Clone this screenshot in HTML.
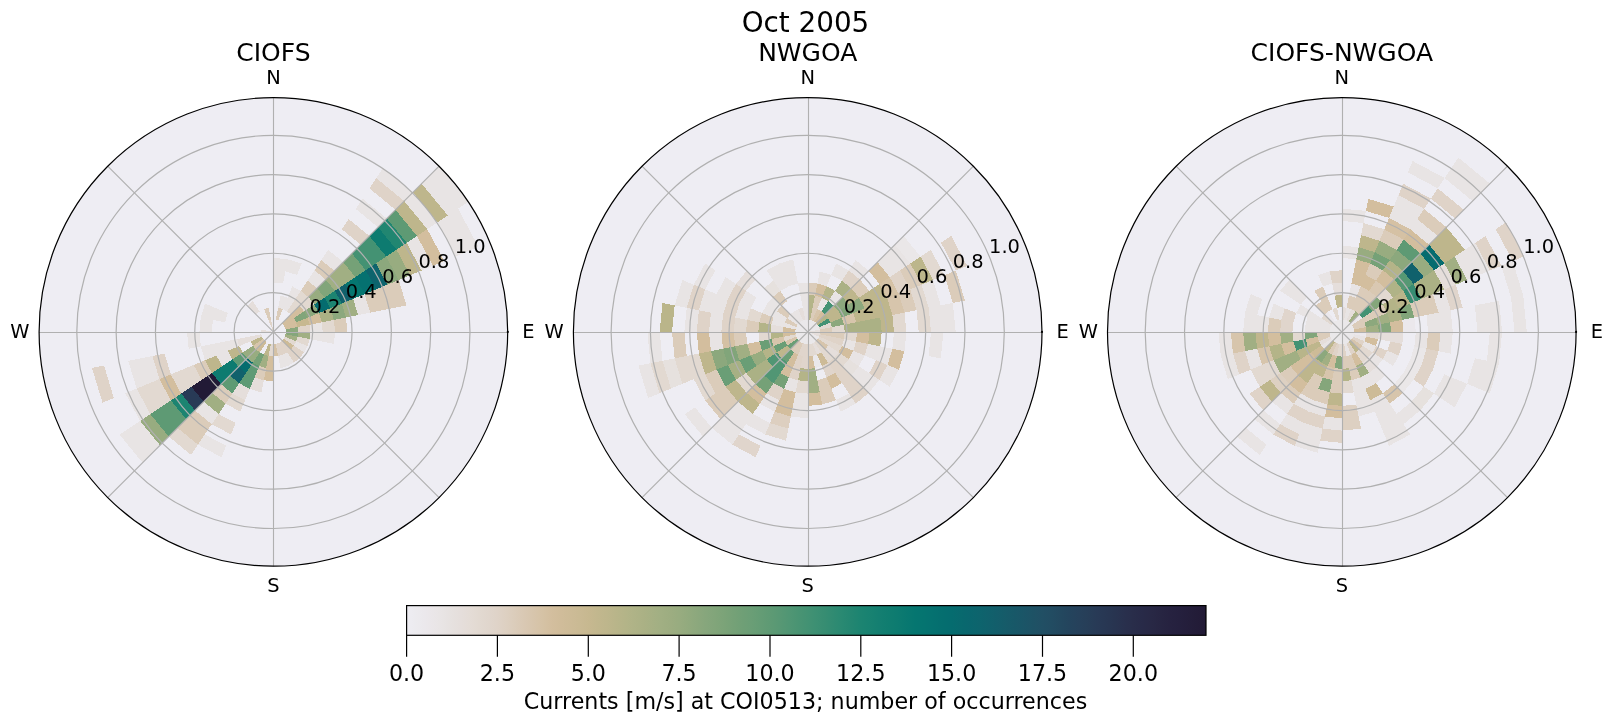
<!DOCTYPE html>
<html><head><meta charset="utf-8"><title>Oct 2005</title>
<style>html,body{margin:0;padding:0;background:#fff}svg{display:block;will-change:transform;transform:translateZ(0)}text{font-family:"DejaVu Sans","Liberation Sans",sans-serif;fill:#000}</style></head><body>
<svg width="1611" height="724" viewBox="0 0 1611 724">
<rect width="1611" height="724" fill="#fff"/>
<defs><linearGradient id="cb" x1="0" x2="1" y1="0" y2="0">
<stop offset="0.0000" stop-color="#eeedf3"/>
<stop offset="0.0114" stop-color="#ecebef"/>
<stop offset="0.0227" stop-color="#ebe8ec"/>
<stop offset="0.0341" stop-color="#eae6e8"/>
<stop offset="0.0455" stop-color="#e8e4e4"/>
<stop offset="0.0568" stop-color="#e6e1df"/>
<stop offset="0.0682" stop-color="#e5dedb"/>
<stop offset="0.0795" stop-color="#e4dcd6"/>
<stop offset="0.0909" stop-color="#e2d9d1"/>
<stop offset="0.1023" stop-color="#e0d6cd"/>
<stop offset="0.1136" stop-color="#dfd3c8"/>
<stop offset="0.1250" stop-color="#ddd0c1"/>
<stop offset="0.1364" stop-color="#dbccba"/>
<stop offset="0.1477" stop-color="#d9c8b3"/>
<stop offset="0.1591" stop-color="#d7c5ac"/>
<stop offset="0.1705" stop-color="#d5c2a5"/>
<stop offset="0.1818" stop-color="#d3be9e"/>
<stop offset="0.1932" stop-color="#d0bc9a"/>
<stop offset="0.2045" stop-color="#cdbb97"/>
<stop offset="0.2159" stop-color="#caba94"/>
<stop offset="0.2273" stop-color="#c7b890"/>
<stop offset="0.2386" stop-color="#c2b78e"/>
<stop offset="0.2500" stop-color="#beb68c"/>
<stop offset="0.2614" stop-color="#b9b58a"/>
<stop offset="0.2727" stop-color="#b4b488"/>
<stop offset="0.2841" stop-color="#afb387"/>
<stop offset="0.2955" stop-color="#abb185"/>
<stop offset="0.3068" stop-color="#a6b084"/>
<stop offset="0.3182" stop-color="#a1af83"/>
<stop offset="0.3295" stop-color="#9dad81"/>
<stop offset="0.3409" stop-color="#98ac80"/>
<stop offset="0.3523" stop-color="#92aa7e"/>
<stop offset="0.3636" stop-color="#8ca87d"/>
<stop offset="0.3750" stop-color="#86a67c"/>
<stop offset="0.3864" stop-color="#81a57a"/>
<stop offset="0.3977" stop-color="#7ba378"/>
<stop offset="0.4091" stop-color="#75a177"/>
<stop offset="0.4205" stop-color="#6f9f76"/>
<stop offset="0.4318" stop-color="#6a9e76"/>
<stop offset="0.4432" stop-color="#649c75"/>
<stop offset="0.4545" stop-color="#5e9a74"/>
<stop offset="0.4659" stop-color="#589874"/>
<stop offset="0.4773" stop-color="#519674"/>
<stop offset="0.4886" stop-color="#4a9473"/>
<stop offset="0.5000" stop-color="#449273"/>
<stop offset="0.5114" stop-color="#3d9073"/>
<stop offset="0.5227" stop-color="#378d72"/>
<stop offset="0.5341" stop-color="#308b72"/>
<stop offset="0.5455" stop-color="#298972"/>
<stop offset="0.5568" stop-color="#238671"/>
<stop offset="0.5682" stop-color="#1c8471"/>
<stop offset="0.5795" stop-color="#188271"/>
<stop offset="0.5909" stop-color="#147f71"/>
<stop offset="0.6023" stop-color="#107d70"/>
<stop offset="0.6136" stop-color="#0d7b70"/>
<stop offset="0.6250" stop-color="#097870"/>
<stop offset="0.6364" stop-color="#057670"/>
<stop offset="0.6477" stop-color="#057470"/>
<stop offset="0.6591" stop-color="#057170"/>
<stop offset="0.6705" stop-color="#056e6f"/>
<stop offset="0.6818" stop-color="#056c6f"/>
<stop offset="0.6932" stop-color="#08696e"/>
<stop offset="0.7045" stop-color="#0a666e"/>
<stop offset="0.7159" stop-color="#0d646d"/>
<stop offset="0.7273" stop-color="#10616c"/>
<stop offset="0.7386" stop-color="#135e6b"/>
<stop offset="0.7500" stop-color="#165b69"/>
<stop offset="0.7614" stop-color="#185868"/>
<stop offset="0.7727" stop-color="#1b5567"/>
<stop offset="0.7841" stop-color="#1e5265"/>
<stop offset="0.7955" stop-color="#214f64"/>
<stop offset="0.8068" stop-color="#224c62"/>
<stop offset="0.8182" stop-color="#23485f"/>
<stop offset="0.8295" stop-color="#24445d"/>
<stop offset="0.8409" stop-color="#26415b"/>
<stop offset="0.8523" stop-color="#273e58"/>
<stop offset="0.8636" stop-color="#283a56"/>
<stop offset="0.8750" stop-color="#283753"/>
<stop offset="0.8864" stop-color="#283450"/>
<stop offset="0.8977" stop-color="#29304d"/>
<stop offset="0.9091" stop-color="#292d4a"/>
<stop offset="0.9205" stop-color="#282a48"/>
<stop offset="0.9318" stop-color="#282845"/>
<stop offset="0.9432" stop-color="#272542"/>
<stop offset="0.9545" stop-color="#262240"/>
<stop offset="0.9659" stop-color="#25203e"/>
<stop offset="0.9773" stop-color="#241e3b"/>
<stop offset="0.9886" stop-color="#231c38"/>
<stop offset="1.0000" stop-color="#221a36"/>
</linearGradient>
<clipPath id="cp0"><circle cx="273.4" cy="331.9" r="234.3"/></clipPath>
<clipPath id="cp1"><circle cx="807.7" cy="331.9" r="234.3"/></clipPath>
<clipPath id="cp2"><circle cx="1341.8" cy="331.9" r="234.3"/></clipPath>
</defs>
<text x="805.5" y="31.5" font-size="27.8" text-anchor="middle">Oct 2005</text>
<g>
<text x="273.4" y="61" font-size="25" text-anchor="middle">CIOFS</text>
<circle cx="273.4" cy="331.9" r="234.3" fill="#eeedf3"/>
<g clip-path="url(#cp0)" shape-rendering="crispEdges">
<path fill="#8ca87d" d="M285.73,331.90L298.07,331.90L297.59,327.09L285.50,329.49ZM333.89,319.87L345.98,317.46L341.77,303.58L330.38,308.30ZM307.59,317.74L318.98,313.02L314.42,304.49L304.17,311.34ZM387.35,284.70L398.75,279.98L386.21,256.52L375.96,263.37Z"/>
<path fill="#dfd3c8" d="M298.07,331.90L310.40,331.90L309.69,324.68L297.59,327.09ZM360.62,244.68L369.34,235.96L348.78,219.09L341.93,229.34ZM395.50,209.80L404.22,201.08L376.19,178.07L369.34,188.32ZM273.40,331.90L270.99,319.80L268.68,320.50L273.40,331.90ZM164.53,353.56L152.43,355.96L159.45,379.10L170.84,374.38ZM104.04,365.59L91.94,367.99L102.47,402.70L113.87,397.98ZM275.81,344.00L278.21,356.09L282.84,354.69L278.12,343.30ZM278.12,343.30L282.84,354.69L287.11,352.41L280.25,342.16ZM280.25,342.16L287.11,352.41L290.84,349.34L282.12,340.62ZM287.11,352.41L293.96,362.67L299.56,358.06L290.84,349.34ZM290.84,349.34L299.56,358.06L304.17,352.46L293.91,345.61Z"/>
<path fill="#e8e4e4" d="M310.40,331.90L322.74,331.90L321.79,322.27L309.69,324.68ZM358.08,315.06L370.18,312.65L364.56,294.14L353.17,298.86ZM421.54,270.54L432.93,265.82L416.98,235.96L406.72,242.82ZM455.73,256.38L467.12,251.66L447.74,215.41L437.49,222.26ZM467.12,251.66L478.52,246.94L458.00,208.55L447.74,215.41ZM427.23,229.11L437.49,222.26L412.95,192.35L404.22,201.08ZM447.74,215.41L458.00,208.55L430.39,174.91L421.67,183.63ZM458.00,208.55L468.25,201.70L439.11,166.19L430.39,174.91ZM317.01,288.29L325.73,279.57L314.52,270.37L307.66,280.62ZM334.45,270.85L343.17,262.13L328.22,249.86L321.37,260.11ZM378.06,227.24L386.78,218.52L362.48,198.58L355.63,208.83ZM404.22,201.08L412.95,192.35L383.04,167.81L376.19,178.07ZM287.11,311.39L293.96,301.13L287.56,297.71L282.84,309.11ZM293.96,301.13L300.81,290.88L292.28,286.32L287.56,297.71ZM282.84,309.11L287.56,297.71L280.62,295.61L278.21,307.71ZM297.00,274.92L301.72,263.53L287.84,259.32L285.43,271.41ZM283.03,283.51L285.43,271.41L273.40,270.23L273.40,282.56ZM285.43,271.41L287.84,259.32L273.40,257.89L273.40,270.23ZM227.82,313.02L216.42,308.30L212.91,319.87L225.01,322.27ZM216.42,308.30L205.03,303.58L200.82,317.46L212.91,319.87ZM212.91,319.87L200.82,317.46L199.39,331.90L211.73,331.90ZM199.39,331.90L187.06,331.90L188.72,348.74L200.82,346.34ZM237.11,339.12L225.01,341.53L227.82,350.78L239.21,346.06ZM225.01,341.53L212.91,343.93L216.42,355.50L227.82,350.78ZM212.91,343.93L200.82,346.34L205.03,360.22L216.42,355.50ZM152.43,355.96L140.33,358.37L148.05,383.82L159.45,379.10ZM140.33,358.37L128.23,360.78L136.66,388.54L148.05,383.82ZM227.82,350.78L216.42,355.50L222.12,366.16L232.38,359.31ZM136.66,388.54L125.26,393.26L140.08,420.98L150.33,414.13ZM140.08,420.98L129.82,427.84L151.30,454.00L160.02,445.28ZM129.82,427.84L119.57,434.69L142.58,462.72L151.30,454.00ZM203.63,401.67L194.91,410.39L211.73,424.20L218.58,413.94ZM204.87,434.46L198.02,444.71L221.48,457.25L226.20,445.85ZM278.21,356.09L280.62,368.19L287.56,366.09L282.84,354.69ZM282.84,354.69L287.56,366.09L293.96,362.67L287.11,352.41ZM293.91,345.61L304.17,352.46L307.59,346.06L296.19,341.34ZM309.69,339.12L321.79,341.53L322.74,331.90L310.40,331.90ZM321.79,341.53L333.89,343.93L335.07,331.90L322.74,331.90Z"/>
<path fill="#e2d9d1" d="M322.74,331.90L335.07,331.90L333.89,319.87L321.79,322.27ZM304.17,311.34L314.42,304.49L308.29,297.01L299.56,305.74ZM290.84,314.46L299.56,305.74L293.96,301.13L287.11,311.39ZM299.56,305.74L308.29,297.01L300.81,290.88L293.96,301.13ZM193.63,364.94L182.24,369.66L191.36,386.72L201.61,379.87ZM182.24,369.66L170.84,374.38L181.10,393.57L191.36,386.72ZM159.45,379.10L148.05,383.82L160.59,407.28L170.84,400.43ZM148.05,383.82L136.66,388.54L150.33,414.13L160.59,407.28ZM177.46,427.84L168.74,436.56L191.17,454.97L198.02,444.71ZM232.28,393.43L225.43,403.69L240.36,411.67L245.08,400.27ZM218.58,413.94L211.73,424.20L230.92,434.46L235.64,423.06ZM270.99,344.00L268.59,356.09L273.40,356.57L273.40,344.23ZM283.66,338.75L293.91,345.61L296.19,341.34L284.80,336.62ZM296.19,341.34L307.59,346.06L309.69,339.12L297.59,336.71Z"/>
<path fill="#dbccba" d="M335.07,331.90L347.41,331.90L345.98,317.46L333.89,319.87ZM370.18,312.65L382.27,310.24L375.96,289.42L364.56,294.14ZM382.27,310.24L394.37,307.84L387.35,284.70L375.96,289.42ZM394.37,307.84L406.47,305.43L398.75,279.98L387.35,284.70ZM308.29,297.01L317.01,288.29L307.66,280.62L300.81,290.88ZM325.73,279.57L334.45,270.85L321.37,260.11L314.52,270.37ZM278.12,320.50L282.84,309.11L278.21,307.71L275.81,319.80ZM270.99,319.80L268.59,307.71L263.96,309.11L268.68,320.50ZM205.03,360.22L193.63,364.94L201.61,379.87L211.87,373.02ZM221.07,384.23L212.35,392.95L225.43,403.69L232.28,393.43ZM194.91,410.39L186.18,419.12L204.87,434.46L211.73,424.20ZM186.18,419.12L177.46,427.84L198.02,444.71L204.87,434.46ZM259.24,366.09L254.52,377.48L263.77,380.29L266.18,368.19Z"/>
<path fill="#d3be9e" d="M285.50,329.49L297.59,327.09L296.19,322.46L284.80,327.18ZM309.69,324.68L321.79,322.27L318.98,313.02L307.59,317.74ZM284.80,327.18L296.19,322.46L293.91,318.19L283.66,325.05ZM432.93,265.82L444.33,261.10L427.23,229.11L416.98,235.96ZM283.66,325.05L293.91,318.19L290.84,314.46L282.12,323.18ZM293.91,318.19L304.17,311.34L299.56,305.74L290.84,314.46ZM170.84,374.38L159.45,379.10L170.84,400.43L181.10,393.57ZM268.59,356.09L266.18,368.19L273.40,368.90L273.40,356.57ZM266.18,368.19L263.77,380.29L273.40,381.24L273.40,368.90Z"/>
<path fill="#c7b890" d="M297.59,327.09L309.69,324.68L307.59,317.74L296.19,322.46Z"/>
<path fill="#abb185" d="M321.79,322.27L333.89,319.87L330.38,308.30L318.98,313.02Z"/>
<path fill="#a1af83" d="M345.98,317.46L358.08,315.06L353.17,298.86L341.77,303.58ZM334.93,290.78L345.19,283.93L334.45,270.85L325.73,279.57ZM345.19,283.93L355.44,277.08L343.17,262.13L334.45,270.85ZM212.35,392.95L203.63,401.67L218.58,413.94L225.43,403.69ZM263.96,354.69L259.24,366.09L266.18,368.19L268.59,356.09ZM284.80,336.62L296.19,341.34L297.59,336.71L285.50,334.31ZM297.59,336.71L309.69,339.12L310.40,331.90L298.07,331.90Z"/>
<path fill="#81a57a" d="M296.19,322.46L307.59,317.74L304.17,311.34L293.91,318.19ZM324.68,297.64L334.93,290.78L325.73,279.57L317.01,288.29Z"/>
<path fill="#056c6f" d="M318.98,313.02L330.38,308.30L324.68,297.64L314.42,304.49ZM247.24,358.06L238.51,366.79L245.99,372.92L252.84,362.67Z"/>
<path fill="#1c8471" d="M330.38,308.30L341.77,303.58L334.93,290.78L324.68,297.64ZM181.10,393.57L170.84,400.43L186.18,419.12L194.91,410.39Z"/>
<path fill="#10616c" d="M341.77,303.58L353.17,298.86L345.19,283.93L334.93,290.78ZM238.51,366.79L229.79,375.51L239.14,383.18L245.99,372.92Z"/>
<path fill="#057670" d="M353.17,298.86L364.56,294.14L355.44,277.08L345.19,283.93Z"/>
<path fill="#057170" d="M364.56,294.14L375.96,289.42L365.70,270.23L355.44,277.08Z"/>
<path fill="#0d646d" d="M375.96,289.42L387.35,284.70L375.96,263.37L365.70,270.23Z"/>
<path fill="#98ac80" d="M398.75,279.98L410.14,275.26L396.47,249.67L386.21,256.52ZM314.42,304.49L324.68,297.64L317.01,288.29L308.29,297.01ZM252.89,345.61L242.63,352.46L247.24,358.06L255.96,349.34ZM150.33,414.13L140.08,420.98L160.02,445.28L168.74,436.56ZM255.96,349.34L247.24,358.06L252.84,362.67L259.69,352.41Z"/>
<path fill="#beb68c" d="M410.14,275.26L421.54,270.54L406.72,242.82L396.47,249.67ZM416.98,235.96L427.23,229.11L404.22,201.08L395.50,209.80ZM437.49,222.26L447.74,215.41L421.67,183.63L412.95,192.35ZM262.00,336.62L250.61,341.34L252.89,345.61L263.14,338.75ZM239.21,346.06L227.82,350.78L232.38,359.31L242.63,352.46ZM216.42,355.50L205.03,360.22L211.87,373.02L222.12,366.16ZM268.68,343.30L263.96,354.69L268.59,356.09L270.99,344.00Z"/>
<path fill="#75a177" d="M355.44,277.08L365.70,270.23L351.89,253.41L343.17,262.13ZM259.69,352.41L252.84,362.67L259.24,366.09L263.96,354.69Z"/>
<path fill="#449273" d="M365.70,270.23L375.96,263.37L360.62,244.68L351.89,253.41ZM375.96,263.37L386.21,256.52L369.34,235.96L360.62,244.68Z"/>
<path fill="#0d7b70" d="M386.21,256.52L396.47,249.67L378.06,227.24L369.34,235.96ZM232.38,359.31L222.12,366.16L229.79,375.51L238.51,366.79ZM222.12,366.16L211.87,373.02L221.07,384.23L229.79,375.51Z"/>
<path fill="#218671" d="M396.47,249.67L406.72,242.82L386.78,218.52L378.06,227.24Z"/>
<path fill="#5e9a74" d="M406.72,242.82L416.98,235.96L395.50,209.80L386.78,218.52ZM242.63,352.46L232.38,359.31L238.51,366.79L247.24,358.06ZM170.84,400.43L160.59,407.28L177.46,427.84L186.18,419.12ZM160.59,407.28L150.33,414.13L168.74,436.56L177.46,427.84ZM229.79,375.51L221.07,384.23L232.28,393.43L239.14,383.18ZM252.84,362.67L245.99,372.92L254.52,377.48L259.24,366.09ZM245.99,372.92L239.14,383.18L249.80,388.88L254.52,377.48Z"/>
<path fill="#e5dedb" d="M259.69,311.39L252.84,301.13L247.24,305.74L255.96,314.46ZM273.40,331.90L261.30,329.49L261.07,331.90L273.40,331.90ZM261.30,334.31L249.21,336.71L250.61,341.34L262.00,336.62ZM249.21,336.71L237.11,339.12L239.21,346.06L250.61,341.34ZM239.14,383.18L232.28,393.43L245.08,400.27L249.80,388.88ZM254.52,377.48L249.80,388.88L261.37,392.39L263.77,380.29Z"/>
<path fill="#d7c5ac" d="M263.14,338.75L252.89,345.61L255.96,349.34L264.68,340.62Z"/>
<path fill="#221a36" d="M211.87,373.02L201.61,379.87L212.35,392.95L221.07,384.23ZM201.61,379.87L191.36,386.72L203.63,401.67L212.35,392.95Z"/>
<path fill="#283a56" d="M191.36,386.72L181.10,393.57L194.91,410.39L203.63,401.67Z"/>
<path fill="#cdbb97" d="M264.68,340.62L255.96,349.34L259.69,352.41L266.55,342.16ZM282.12,340.62L290.84,349.34L293.91,345.61L283.66,338.75Z"/>
<path fill="#d5c2a6" d="M273.40,344.23L273.40,356.57L278.21,356.09L275.81,344.00Z"/>
<path fill="#85a67b" d="M285.50,334.31L297.59,336.71L298.07,331.90L285.73,331.90Z"/>
</g>
<g fill="none" stroke="#b0b0b0" stroke-width="1.2"><circle cx="273.4" cy="331.9" r="39.32"/><circle cx="273.4" cy="331.9" r="78.64"/><circle cx="273.4" cy="331.9" r="117.96"/><circle cx="273.4" cy="331.9" r="157.28"/><circle cx="273.4" cy="331.9" r="196.60"/><line stroke-width="1.1" x1="39.05" y1="332.5" x2="507.75" y2="332.5"/><line stroke-width="1.1" x1="273.5" y1="97.55" x2="273.5" y2="566.25"/><line x1="107.69" y1="497.61" x2="439.11" y2="166.19"/><line x1="439.11" y1="497.61" x2="107.69" y2="166.19"/></g>
<circle cx="273.4" cy="331.9" r="234.3" fill="none" stroke="#000" stroke-width="1.2"/>
<circle cx="507.8" cy="331.9" r="1.1" fill="#000"/>
<g font-size="19.44" text-anchor="middle">
<text x="273.4" y="84">N</text>
<text x="273.4" y="591.6">S</text>
<text x="528.4" y="337.8">E</text>
<text x="19.9" y="337.8">W</text>
<text x="324.9" y="313.1">0.2</text>
<text x="361.3" y="298.0">0.4</text>
<text x="397.6" y="283.0">0.6</text>
<text x="433.9" y="267.9">0.8</text>
<text x="470.2" y="252.9">1.0</text>
</g>
</g>
<g>
<text x="807.7" y="61" font-size="25" text-anchor="middle">NWGOA</text>
<circle cx="807.7" cy="331.9" r="234.3" fill="#eeedf3"/>
<g clip-path="url(#cp1)" shape-rendering="crispEdges">
<path fill="#e5dedb" d="M807.70,331.90L820.03,331.90L819.80,329.49L807.70,331.90ZM805.29,319.80L802.89,307.71L798.26,309.11L802.98,320.50ZM755.37,279.57L746.65,270.85L735.91,283.93L746.17,290.78ZM783.51,327.09L771.41,324.68L770.70,331.90L783.03,331.90ZM812.42,343.30L817.14,354.69L821.41,352.41L814.55,342.16ZM825.14,349.34L833.86,358.06L838.47,352.46L828.21,345.61ZM807.70,331.90L819.10,336.62L819.80,334.31L807.70,331.90ZM807.70,331.90L819.80,334.31L820.03,331.90L807.70,331.90Z"/>
<path fill="#dbccba" d="M820.03,331.90L832.37,331.90L831.89,327.09L819.80,329.49ZM904.48,312.65L916.57,310.24L910.26,289.42L898.86,294.14ZM952.87,303.02L964.96,300.62L955.84,270.54L944.44,275.26ZM910.26,289.42L921.65,284.70L910.26,263.37L900.00,270.23ZM858.98,297.64L869.23,290.78L860.03,279.57L851.31,288.29ZM812.42,320.50L817.14,309.11L812.51,307.71L810.11,319.80ZM817.14,309.11L821.86,297.71L814.92,295.61L812.51,307.71ZM814.92,295.61L817.33,283.51L807.70,282.56L807.70,294.90ZM787.14,301.13L780.29,290.88L772.81,297.01L781.54,305.74ZM790.26,314.46L781.54,305.74L776.93,311.34L787.19,318.19ZM797.44,325.05L787.19,318.19L784.91,322.46L796.30,327.18ZM773.51,317.74L762.12,313.02L759.31,322.27L771.41,324.68ZM759.31,322.27L747.21,319.87L746.03,331.90L758.36,331.90ZM746.03,331.90L733.69,331.90L735.12,346.34L747.21,343.93ZM684.36,331.90L672.02,331.90L674.63,358.37L686.73,355.96ZM716.54,369.66L705.14,374.38L715.40,393.57L725.66,386.72ZM725.66,386.72L715.40,393.57L729.21,410.39L737.93,401.67ZM715.40,393.57L705.14,400.43L720.48,419.12L729.21,410.39ZM798.98,340.62L790.26,349.34L793.99,352.41L800.85,342.16ZM800.85,342.16L793.99,352.41L798.26,354.69L802.98,343.30ZM817.33,380.29L819.73,392.39L831.30,388.88L826.58,377.48ZM819.73,392.39L822.14,404.48L836.02,400.27L831.30,388.88ZM819.80,334.31L831.89,336.71L832.37,331.90L820.03,331.90ZM831.89,336.71L843.99,339.12L844.70,331.90L832.37,331.90Z"/>
<path fill="#e2d9d1" d="M832.37,331.90L844.70,331.90L843.99,324.68L831.89,327.09ZM894.04,331.90L906.37,331.90L904.48,312.65L892.38,315.06ZM918.71,331.90L931.04,331.90L928.67,307.84L916.57,310.24ZM819.80,329.49L831.89,327.09L830.49,322.46L819.10,327.18ZM916.57,310.24L928.67,307.84L921.65,284.70L910.26,289.42ZM933.05,279.98L944.44,275.26L930.77,249.67L920.51,256.52ZM762.12,313.02L750.72,308.30L747.21,319.87L759.31,322.27ZM747.21,319.87L735.12,317.46L733.69,331.90L746.03,331.90ZM770.70,331.90L758.36,331.90L759.31,341.53L771.41,339.12ZM795.60,334.31L783.51,336.71L784.91,341.34L796.30,336.62ZM698.83,353.56L686.73,355.96L693.75,379.10L705.14,374.38ZM686.73,355.96L674.63,358.37L682.35,383.82L693.75,379.10ZM662.53,360.78L650.44,363.18L659.56,393.26L670.96,388.54ZM705.14,374.38L693.75,379.10L705.14,400.43L715.40,393.57ZM746.17,373.02L735.91,379.87L746.65,392.95L755.37,384.23ZM769.94,423.06L765.22,434.46L786.04,440.77L788.45,428.68ZM798.07,380.29L795.67,392.39L807.70,393.57L807.70,381.24ZM807.70,344.23L807.70,356.57L812.51,356.09L810.11,344.00ZM810.11,344.00L812.51,356.09L817.14,354.69L812.42,343.30ZM814.55,342.16L821.41,352.41L825.14,349.34L816.42,340.62ZM821.41,352.41L828.26,362.67L833.86,358.06L825.14,349.34ZM833.86,358.06L842.59,366.79L848.72,359.31L838.47,352.46ZM817.96,338.75L828.21,345.61L830.49,341.34L819.10,336.62ZM828.21,345.61L838.47,352.46L841.89,346.06L830.49,341.34ZM843.99,339.12L856.09,341.53L857.04,331.90L844.70,331.90Z"/>
<path fill="#abb185" d="M844.70,331.90L857.04,331.90L856.09,322.27L843.99,324.68ZM857.04,331.90L869.37,331.90L868.19,319.87L856.09,322.27ZM869.37,331.90L881.71,331.90L880.28,317.46L868.19,319.87ZM842.59,297.01L851.31,288.29L841.96,280.62L835.11,290.88ZM766.68,359.31L756.42,366.16L764.09,375.51L772.81,366.79ZM756.42,366.16L746.17,373.02L755.37,384.23L764.09,375.51Z"/>
<path fill="#beb68c" d="M881.71,331.90L894.04,331.90L892.38,315.06L880.28,317.46ZM856.09,322.27L868.19,319.87L864.68,308.30L853.28,313.02ZM868.19,319.87L880.28,317.46L876.07,303.58L864.68,308.30ZM880.28,317.46L892.38,315.06L887.47,298.86L876.07,303.58ZM830.49,322.46L841.89,317.74L838.47,311.34L828.21,318.19ZM864.68,308.30L876.07,303.58L869.23,290.78L858.98,297.64ZM876.07,303.58L887.47,298.86L879.49,283.93L869.23,290.78ZM828.21,318.19L838.47,311.34L833.86,305.74L825.14,314.46ZM848.72,304.49L858.98,297.64L851.31,288.29L842.59,297.01ZM710.92,351.15L698.83,353.56L705.14,374.38L716.54,369.66ZM787.19,345.61L776.93,352.46L781.54,358.06L790.26,349.34ZM735.91,379.87L725.66,386.72L737.93,401.67L746.65,392.95ZM746.65,392.95L737.93,401.67L752.88,413.94L759.73,403.69ZM868.19,343.93L880.28,346.34L881.71,331.90L869.37,331.90Z"/>
<path fill="#e8e4e4" d="M931.04,331.90L943.38,331.90L940.77,305.43L928.67,307.84ZM943.38,331.90L955.71,331.90L952.87,303.02L940.77,305.43ZM928.67,307.84L940.77,305.43L933.05,279.98L921.65,284.70ZM889.74,277.08L900.00,270.23L886.19,253.41L877.47,262.13ZM900.00,270.23L910.26,263.37L894.92,244.68L886.19,253.41ZM833.86,305.74L842.59,297.01L835.11,290.88L828.26,301.13ZM860.03,279.57L868.75,270.85L855.67,260.11L848.82,270.37ZM821.41,311.39L828.26,301.13L821.86,297.71L817.14,309.11ZM841.96,280.62L848.82,270.37L836.02,263.53L831.30,274.92ZM826.58,286.32L831.30,274.92L819.73,271.41L817.33,283.51ZM807.70,319.57L807.70,307.23L802.89,307.71L805.29,319.80ZM807.70,307.23L807.70,294.90L800.48,295.61L802.89,307.71ZM807.70,294.90L807.70,282.56L798.07,283.51L800.48,295.61ZM798.07,283.51L795.67,271.41L784.10,274.92L788.82,286.32ZM795.67,271.41L793.26,259.32L779.38,263.53L784.10,274.92ZM802.98,320.50L798.26,309.11L793.99,311.39L800.85,321.64ZM788.82,286.32L784.10,274.92L773.44,280.62L780.29,290.88ZM784.10,274.92L779.38,263.53L766.58,270.37L773.44,280.62ZM800.85,321.64L793.99,311.39L790.26,314.46L798.98,323.18ZM798.98,323.18L790.26,314.46L787.19,318.19L797.44,325.05ZM781.54,305.74L772.81,297.01L766.68,304.49L776.93,311.34ZM787.19,318.19L776.93,311.34L773.51,317.74L784.91,322.46ZM776.93,311.34L766.68,304.49L762.12,313.02L773.51,317.74ZM756.42,297.64L746.17,290.78L739.33,303.58L750.72,308.30ZM735.91,283.93L725.66,277.08L716.54,294.14L727.93,298.86ZM715.40,270.23L705.14,263.37L693.75,284.70L705.14,289.42ZM796.30,327.18L784.91,322.46L783.51,327.09L795.60,329.49ZM784.91,322.46L773.51,317.74L771.41,324.68L783.51,327.09ZM750.72,308.30L739.33,303.58L735.12,317.46L747.21,319.87ZM727.93,298.86L716.54,294.14L710.92,312.65L723.02,315.06ZM716.54,294.14L705.14,289.42L698.83,310.24L710.92,312.65ZM693.75,284.70L682.35,279.98L674.63,305.43L686.73,307.84ZM723.02,315.06L710.92,312.65L709.03,331.90L721.36,331.90ZM698.83,310.24L686.73,307.84L684.36,331.90L696.69,331.90ZM721.36,331.90L709.03,331.90L710.92,351.15L723.02,348.74ZM659.69,331.90L647.36,331.90L650.44,363.18L662.53,360.78ZM650.44,363.18L638.34,365.59L648.17,397.98L659.56,393.26ZM694.89,407.28L684.63,414.13L703.04,436.56L711.76,427.84ZM737.93,401.67L729.21,410.39L746.03,424.20L752.88,413.94ZM729.21,410.39L720.48,419.12L739.17,434.46L746.03,424.20ZM720.48,419.12L711.76,427.84L732.32,444.71L739.17,434.46ZM766.58,393.43L759.73,403.69L774.66,411.67L779.38,400.27ZM752.88,413.94L746.03,424.20L765.22,434.46L769.94,423.06ZM788.82,377.48L784.10,388.88L795.67,392.39L798.07,380.29ZM795.67,392.39L793.26,404.48L807.70,405.91L807.70,393.57ZM793.26,404.48L790.86,416.58L807.70,418.24L807.70,405.91ZM836.02,400.27L840.74,411.67L855.67,403.69L848.82,393.43ZM851.31,375.51L860.03,384.23L869.23,373.02L858.98,366.16ZM860.03,384.23L868.75,392.95L879.49,379.87L869.23,373.02ZM848.72,359.31L858.98,366.16L864.68,355.50L853.28,350.78ZM879.49,379.87L889.74,386.72L898.86,369.66L887.47,364.94ZM841.89,346.06L853.28,350.78L856.09,341.53L843.99,339.12ZM864.68,355.50L876.07,360.22L880.28,346.34L868.19,343.93ZM876.07,360.22L887.47,364.94L892.38,348.74L880.28,346.34ZM892.38,348.74L904.48,351.15L906.37,331.90L894.04,331.90ZM928.67,355.96L940.77,358.37L943.38,331.90L931.04,331.90Z"/>
<path fill="#eae8ea" d="M807.70,331.90L819.80,329.49L819.10,327.18L807.70,331.90ZM807.70,331.90L819.10,327.18L817.96,325.05L807.70,331.90ZM807.70,331.90L817.96,325.05L816.42,323.18L807.70,331.90ZM807.70,331.90L816.42,323.18L814.55,321.64L807.70,331.90ZM807.70,331.90L814.55,321.64L812.42,320.50L807.70,331.90ZM807.70,331.90L812.42,320.50L810.11,319.80L807.70,331.90ZM807.70,331.90L810.11,319.80L807.70,319.57L807.70,331.90ZM807.70,331.90L807.70,319.57L805.29,319.80L807.70,331.90ZM807.70,331.90L805.29,319.80L802.98,320.50L807.70,331.90ZM807.70,331.90L802.98,320.50L800.85,321.64L807.70,331.90ZM807.70,331.90L800.85,321.64L798.98,323.18L807.70,331.90ZM807.70,331.90L798.98,323.18L797.44,325.05L807.70,331.90ZM807.70,331.90L797.44,325.05L796.30,327.18L807.70,331.90ZM807.70,331.90L796.30,327.18L795.60,329.49L807.70,331.90ZM807.70,331.90L795.60,329.49L795.37,331.90L807.70,331.90ZM807.70,331.90L795.37,331.90L795.60,334.31L807.70,331.90ZM807.70,331.90L795.60,334.31L796.30,336.62L807.70,331.90ZM807.70,331.90L796.30,336.62L797.44,338.75L807.70,331.90ZM807.70,331.90L797.44,338.75L798.98,340.62L807.70,331.90ZM807.70,331.90L798.98,340.62L800.85,342.16L807.70,331.90ZM807.70,331.90L800.85,342.16L802.98,343.30L807.70,331.90ZM807.70,331.90L802.98,343.30L805.29,344.00L807.70,331.90ZM807.70,331.90L805.29,344.00L807.70,344.23L807.70,331.90ZM807.70,331.90L807.70,344.23L810.11,344.00L807.70,331.90ZM807.70,331.90L810.11,344.00L812.42,343.30L807.70,331.90ZM812.51,356.09L814.92,368.19L821.86,366.09L817.14,354.69ZM807.70,331.90L812.42,343.30L814.55,342.16L807.70,331.90ZM807.70,331.90L814.55,342.16L816.42,340.62L807.70,331.90ZM807.70,331.90L816.42,340.62L817.96,338.75L807.70,331.90ZM807.70,331.90L817.96,338.75L819.10,336.62L807.70,331.90Z"/>
<path fill="#8ca87d" d="M831.89,327.09L843.99,324.68L841.89,317.74L830.49,322.46ZM853.28,313.02L864.68,308.30L858.98,297.64L848.72,304.49ZM838.47,311.34L848.72,304.49L842.59,297.01L833.86,305.74ZM723.02,348.74L710.92,351.15L716.54,369.66L727.93,364.94Z"/>
<path fill="#d7c5ac" d="M843.99,324.68L856.09,322.27L853.28,313.02L841.89,317.74ZM892.38,315.06L904.48,312.65L898.86,294.14L887.47,298.86ZM814.55,321.64L821.41,311.39L817.14,309.11L812.42,320.50ZM783.51,336.71L771.41,339.12L773.51,346.06L784.91,341.34ZM796.30,336.62L784.91,341.34L787.19,345.61L797.44,338.75ZM816.42,340.62L825.14,349.34L828.21,345.61L817.96,338.75Z"/>
<path fill="#449273" d="M819.10,327.18L830.49,322.46L828.21,318.19L817.96,325.05ZM825.14,314.46L833.86,305.74L828.26,301.13L821.41,311.39Z"/>
<path fill="#81a57a" d="M841.89,317.74L853.28,313.02L848.72,304.49L838.47,311.34ZM735.12,346.34L723.02,348.74L727.93,364.94L739.33,360.22Z"/>
<path fill="#d5c2a6" d="M887.47,298.86L898.86,294.14L889.74,277.08L879.49,283.93Z"/>
<path fill="#dfd3c8" d="M898.86,294.14L910.26,289.42L900.00,270.23L889.74,277.08ZM955.84,270.54L967.23,265.82L951.28,235.96L941.02,242.82ZM851.31,288.29L860.03,279.57L848.82,270.37L841.96,280.62ZM746.17,290.78L735.91,283.93L727.93,298.86L739.33,303.58ZM739.33,303.58L727.93,298.86L723.02,315.06L735.12,317.46ZM705.14,289.42L693.75,284.70L686.73,307.84L698.83,310.24ZM735.12,317.46L723.02,315.06L721.36,331.90L733.69,331.90ZM710.92,312.65L698.83,310.24L696.69,331.90L709.03,331.90ZM773.44,383.18L766.58,393.43L779.38,400.27L784.10,388.88ZM798.26,354.69L793.54,366.09L800.48,368.19L802.89,356.09ZM793.54,366.09L788.82,377.48L798.07,380.29L800.48,368.19ZM828.26,362.67L835.11,372.92L842.59,366.79L833.86,358.06ZM835.11,372.92L841.96,383.18L851.31,375.51L842.59,366.79ZM841.96,383.18L848.82,393.43L860.03,384.23L851.31,375.51ZM848.82,393.43L855.67,403.69L868.75,392.95L860.03,384.23ZM869.23,373.02L879.49,379.87L887.47,364.94L876.07,360.22ZM819.10,336.62L830.49,341.34L831.89,336.71L819.80,334.31ZM830.49,341.34L841.89,346.06L843.99,339.12L831.89,336.71ZM853.28,350.78L864.68,355.50L868.19,343.93L856.09,341.53Z"/>
<path fill="#bcb68b" d="M921.65,284.70L933.05,279.98L920.51,256.52L910.26,263.37Z"/>
<path fill="#b4b488" d="M817.96,325.05L828.21,318.19L825.14,314.46L816.42,323.18ZM828.26,301.13L835.11,290.88L826.58,286.32L821.86,297.71ZM810.11,319.80L812.51,307.71L807.70,307.23L807.70,319.57ZM812.51,307.71L814.92,295.61L807.70,294.90L807.70,307.23ZM771.41,324.68L759.31,322.27L758.36,331.90L770.70,331.90ZM783.03,331.90L770.70,331.90L771.41,339.12L783.51,336.71ZM773.51,346.06L762.12,350.78L766.68,359.31L776.93,352.46ZM800.48,368.19L798.07,380.29L807.70,381.24L807.70,368.90Z"/>
<path fill="#d3be9e" d="M879.49,283.93L889.74,277.08L877.47,262.13L868.75,270.85ZM816.42,323.18L825.14,314.46L821.41,311.39L814.55,321.64ZM821.86,297.71L826.58,286.32L817.33,283.51L814.92,295.61ZM795.60,329.49L783.51,327.09L783.03,331.90L795.37,331.90ZM795.37,331.90L783.03,331.90L783.51,336.71L795.60,334.31ZM709.03,331.90L696.69,331.90L698.83,353.56L710.92,351.15ZM759.31,341.53L747.21,343.93L750.72,355.50L762.12,350.78ZM755.37,384.23L746.65,392.95L759.73,403.69L766.58,393.43ZM793.99,352.41L787.14,362.67L793.54,366.09L798.26,354.69ZM787.14,362.67L780.29,372.92L788.82,377.48L793.54,366.09ZM784.10,388.88L779.38,400.27L793.26,404.48L795.67,392.39ZM779.38,400.27L774.66,411.67L790.86,416.58L793.26,404.48ZM807.70,356.57L807.70,368.90L814.92,368.19L812.51,356.09ZM807.70,393.57L807.70,405.91L822.14,404.48L819.73,392.39ZM826.58,377.48L831.30,388.88L841.96,383.18L835.11,372.92ZM838.47,352.46L848.72,359.31L853.28,350.78L841.89,346.06ZM887.47,364.94L898.86,369.66L904.48,351.15L892.38,348.74ZM856.09,341.53L868.19,343.93L869.37,331.90L857.04,331.90Z"/>
<path fill="#eae7e8" d="M910.26,263.37L920.51,256.52L903.64,235.96L894.92,244.68Z"/>
<path fill="#e6e1de" d="M780.29,290.88L773.44,280.62L764.09,288.29L772.81,297.01ZM674.63,358.37L662.53,360.78L670.96,388.54L682.35,383.82ZM842.59,366.79L851.31,375.51L858.98,366.16L848.72,359.31Z"/>
<path fill="#bab58a" d="M674.63,305.43L662.53,303.02L659.69,331.90L672.02,331.90Z"/>
<path fill="#d5c1a4" d="M733.69,331.90L721.36,331.90L723.02,348.74L735.12,346.34Z"/>
<path fill="#6a9e76" d="M771.41,339.12L759.31,341.53L762.12,350.78L773.51,346.06ZM784.91,341.34L773.51,346.06L776.93,352.46L787.19,345.61ZM750.72,355.50L739.33,360.22L746.17,373.02L756.42,366.16ZM727.93,364.94L716.54,369.66L725.66,386.72L735.91,379.87ZM797.44,338.75L787.19,345.61L790.26,349.34L798.98,340.62ZM790.26,349.34L781.54,358.06L787.14,362.67L793.99,352.41Z"/>
<path fill="#a1af83" d="M747.21,343.93L735.12,346.34L739.33,360.22L750.72,355.50ZM807.70,368.90L807.70,381.24L817.33,380.29L814.92,368.19ZM807.70,381.24L807.70,393.57L819.73,392.39L817.33,380.29Z"/>
<path fill="#98ac80" d="M762.12,350.78L750.72,355.50L756.42,366.16L766.68,359.31Z"/>
<path fill="#a7b084" d="M739.33,360.22L727.93,364.94L735.91,379.87L746.17,373.02Z"/>
<path fill="#519674" d="M776.93,352.46L766.68,359.31L772.81,366.79L781.54,358.06ZM781.54,358.06L772.81,366.79L780.29,372.92L787.14,362.67ZM772.81,366.79L764.09,375.51L773.44,383.18L780.29,372.92Z"/>
<path fill="#75a177" d="M764.09,375.51L755.37,384.23L766.58,393.43L773.44,383.18ZM780.29,372.92L773.44,383.18L784.10,388.88L788.82,377.48Z"/>
<path fill="#e0d5cc" d="M739.17,434.46L732.32,444.71L755.78,457.25L760.50,445.85ZM802.98,343.30L798.26,354.69L802.89,356.09L805.29,344.00ZM805.29,344.00L802.89,356.09L807.70,356.57L807.70,344.23ZM802.89,356.09L800.48,368.19L807.70,368.90L807.70,356.57ZM821.86,366.09L826.58,377.48L835.11,372.92L828.26,362.67Z"/>
<path fill="#ddcfc0" d="M774.66,411.67L769.94,423.06L788.45,428.68L790.86,416.58Z"/>
<path fill="#cdbb97" d="M817.14,354.69L821.86,366.09L828.26,362.67L821.41,352.41Z"/>
</g>
<g fill="none" stroke="#b0b0b0" stroke-width="1.2"><circle cx="807.7" cy="331.9" r="39.32"/><circle cx="807.7" cy="331.9" r="78.64"/><circle cx="807.7" cy="331.9" r="117.96"/><circle cx="807.7" cy="331.9" r="157.28"/><circle cx="807.7" cy="331.9" r="196.60"/><line stroke-width="1.1" x1="573.35" y1="332.5" x2="1042.05" y2="332.5"/><line stroke-width="1.1" x1="808.5" y1="97.55" x2="808.5" y2="566.25"/><line x1="641.99" y1="497.61" x2="973.41" y2="166.19"/><line x1="973.41" y1="497.61" x2="641.99" y2="166.19"/></g>
<circle cx="807.7" cy="331.9" r="234.3" fill="none" stroke="#000" stroke-width="1.2"/>
<circle cx="1042.0" cy="331.9" r="1.1" fill="#000"/>
<g font-size="19.44" text-anchor="middle">
<text x="807.7" y="84">N</text>
<text x="807.7" y="591.6">S</text>
<text x="1062.7" y="337.8">E</text>
<text x="554.2" y="337.8">W</text>
<text x="859.2" y="313.1">0.2</text>
<text x="895.6" y="298.0">0.4</text>
<text x="931.9" y="283.0">0.6</text>
<text x="968.2" y="267.9">0.8</text>
<text x="1004.5" y="252.9">1.0</text>
</g>
</g>
<g>
<text x="1341.8" y="61" font-size="25" text-anchor="middle">CIOFS-NWGOA</text>
<circle cx="1341.8" cy="331.9" r="234.3" fill="#eeedf3"/>
<g clip-path="url(#cp2)" shape-rendering="crispEdges">
<path fill="#eae8ea" d="M1341.80,331.90L1354.13,331.90L1353.90,329.49L1341.80,331.90ZM1341.80,331.90L1353.90,329.49L1353.20,327.18L1341.80,331.90ZM1341.80,331.90L1353.20,327.18L1352.06,325.05L1341.80,331.90ZM1341.80,331.90L1352.06,325.05L1350.52,323.18L1341.80,331.90ZM1341.80,331.90L1350.52,323.18L1348.65,321.64L1341.80,331.90ZM1341.80,331.90L1348.65,321.64L1346.52,320.50L1341.80,331.90ZM1341.80,331.90L1346.52,320.50L1344.21,319.80L1341.80,331.90ZM1341.80,331.90L1344.21,319.80L1341.80,319.57L1341.80,331.90ZM1341.80,331.90L1341.80,319.57L1339.39,319.80L1341.80,331.90ZM1341.80,331.90L1339.39,319.80L1337.08,320.50L1341.80,331.90ZM1341.80,331.90L1337.08,320.50L1334.95,321.64L1341.80,331.90ZM1341.80,331.90L1334.95,321.64L1333.08,323.18L1341.80,331.90ZM1341.80,331.90L1333.08,323.18L1331.54,325.05L1341.80,331.90ZM1341.80,331.90L1331.54,325.05L1330.40,327.18L1341.80,331.90ZM1341.80,331.90L1330.40,327.18L1329.70,329.49L1341.80,331.90ZM1341.80,331.90L1329.70,329.49L1329.47,331.90L1341.80,331.90ZM1341.80,331.90L1329.47,331.90L1329.70,334.31L1341.80,331.90ZM1341.80,331.90L1329.70,334.31L1330.40,336.62L1341.80,331.90ZM1341.80,331.90L1330.40,336.62L1331.54,338.75L1341.80,331.90ZM1341.80,331.90L1331.54,338.75L1333.08,340.62L1341.80,331.90ZM1341.80,331.90L1333.08,340.62L1334.95,342.16L1341.80,331.90ZM1341.80,331.90L1334.95,342.16L1337.08,343.30L1341.80,331.90ZM1341.80,331.90L1337.08,343.30L1339.39,344.00L1341.80,331.90ZM1341.80,331.90L1339.39,344.00L1341.80,344.23L1341.80,331.90ZM1341.80,331.90L1341.80,344.23L1344.21,344.00L1341.80,331.90ZM1341.80,331.90L1344.21,344.00L1346.52,343.30L1341.80,331.90ZM1341.80,331.90L1346.52,343.30L1348.65,342.16L1341.80,331.90ZM1341.80,331.90L1348.65,342.16L1350.52,340.62L1341.80,331.90ZM1341.80,331.90L1350.52,340.62L1352.06,338.75L1341.80,331.90ZM1341.80,331.90L1352.06,338.75L1353.20,336.62L1341.80,331.90ZM1341.80,331.90L1353.20,336.62L1353.90,334.31L1341.80,331.90ZM1341.80,331.90L1353.90,334.31L1354.13,331.90L1341.80,331.90Z"/>
<path fill="#d3be9e" d="M1354.13,331.90L1366.47,331.90L1365.99,327.09L1353.90,329.49ZM1391.14,331.90L1403.47,331.90L1402.29,319.87L1390.19,322.27ZM1385.41,288.29L1394.13,279.57L1382.92,270.37L1376.06,280.62ZM1420.29,253.41L1429.02,244.68L1410.33,229.34L1403.47,239.60ZM1369.21,290.88L1376.06,280.62L1365.40,274.92L1360.68,286.32ZM1360.68,286.32L1365.40,274.92L1353.83,271.41L1351.43,283.51ZM1365.40,274.92L1370.12,263.53L1356.24,259.32L1353.83,271.41ZM1389.00,217.95L1393.72,206.55L1368.27,198.83L1365.86,210.93ZM1280.13,331.90L1267.79,331.90L1269.22,346.34L1281.31,343.93ZM1317.61,336.71L1305.51,339.12L1307.61,346.06L1319.01,341.34ZM1293.41,341.53L1281.31,343.93L1284.82,355.50L1296.22,350.78ZM1311.03,352.46L1300.78,359.31L1306.91,366.79L1315.64,358.06ZM1300.78,359.31L1290.52,366.16L1298.19,375.51L1306.91,366.79ZM1298.19,375.51L1289.47,384.23L1300.68,393.43L1307.54,383.18ZM1332.36,354.69L1327.64,366.09L1334.58,368.19L1336.99,356.09ZM1327.36,404.48L1324.96,416.58L1341.80,418.24L1341.80,405.91ZM1351.24,354.69L1355.96,366.09L1362.36,362.67L1355.51,352.41ZM1364.59,341.34L1375.99,346.06L1378.09,339.12L1365.99,336.71Z"/>
<path fill="#a1af83" d="M1366.47,331.90L1378.80,331.90L1378.09,324.68L1365.99,327.09ZM1378.09,324.68L1390.19,322.27L1387.38,313.02L1375.99,317.74ZM1455.75,284.70L1467.15,279.98L1454.61,256.52L1444.36,263.37ZM1350.52,323.18L1359.24,314.46L1355.51,311.39L1348.65,321.64ZM1292.46,331.90L1280.13,331.90L1281.31,343.93L1293.41,341.53ZM1255.46,331.90L1243.13,331.90L1245.02,351.15L1257.12,348.74ZM1296.22,350.78L1284.82,355.50L1290.52,366.16L1300.78,359.31ZM1284.82,355.50L1273.43,360.22L1280.27,373.02L1290.52,366.16ZM1328.09,352.41L1321.24,362.67L1327.64,366.09L1332.36,354.69ZM1355.96,366.09L1360.68,377.48L1369.21,372.92L1362.36,362.67Z"/>
<path fill="#85a67b" d="M1378.80,331.90L1391.14,331.90L1390.19,322.27L1378.09,324.68ZM1372.57,311.34L1382.82,304.49L1376.69,297.01L1367.96,305.74ZM1322.92,377.48L1318.20,388.88L1329.77,392.39L1332.17,380.29ZM1336.99,356.09L1334.58,368.19L1341.80,368.90L1341.80,356.57Z"/>
<path fill="#ebe8ec" d="M1403.47,331.90L1415.81,331.90L1414.38,317.46L1402.29,319.87ZM1352.06,325.05L1362.31,318.19L1359.24,314.46L1350.52,323.18ZM1346.61,307.71L1349.02,295.61L1341.80,294.90L1341.80,307.23ZM1334.95,321.64L1328.09,311.39L1324.36,314.46L1333.08,323.18ZM1353.90,334.31L1365.99,336.71L1366.47,331.90L1354.13,331.90Z"/>
<path fill="#e8e4e4" d="M1428.14,331.90L1440.47,331.90L1438.58,312.65L1426.48,315.06ZM1440.47,331.90L1452.81,331.90L1450.67,310.24L1438.58,312.65ZM1477.48,331.90L1489.81,331.90L1486.97,303.02L1474.87,305.43ZM1489.81,331.90L1502.14,331.90L1499.06,300.62L1486.97,303.02ZM1514.48,331.90L1526.81,331.90L1523.26,295.81L1511.16,298.21ZM1438.58,312.65L1450.67,310.24L1444.36,289.42L1432.96,294.14ZM1511.16,298.21L1523.26,295.81L1512.73,261.10L1501.33,265.82ZM1467.15,279.98L1478.54,275.26L1464.87,249.67L1454.61,256.52ZM1478.54,275.26L1489.94,270.54L1475.12,242.82L1464.87,249.67ZM1429.02,244.68L1437.74,235.96L1417.18,219.09L1410.33,229.34ZM1472.62,201.08L1481.35,192.35L1451.44,167.81L1444.59,178.07ZM1481.35,192.35L1490.07,183.63L1458.29,157.56L1451.44,167.81ZM1410.33,229.34L1417.18,219.09L1393.72,206.55L1389.00,217.95ZM1417.18,219.09L1424.03,208.83L1398.44,195.16L1393.72,206.55ZM1437.74,188.32L1444.59,178.07L1412.60,160.97L1407.88,172.37ZM1346.52,320.50L1351.24,309.11L1346.61,307.71L1344.21,319.80ZM1355.96,297.71L1360.68,286.32L1351.43,283.51L1349.02,295.61ZM1356.24,259.32L1358.64,247.22L1341.80,245.56L1341.80,257.89ZM1363.46,223.03L1365.86,210.93L1341.80,208.56L1341.80,220.89ZM1332.17,283.51L1329.77,271.41L1318.20,274.92L1322.92,286.32ZM1306.91,297.01L1298.19,288.29L1290.52,297.64L1300.78,304.49ZM1298.19,288.29L1289.47,279.57L1280.27,290.78L1290.52,297.64ZM1331.54,325.05L1321.29,318.19L1319.01,322.46L1330.40,327.18ZM1321.29,318.19L1311.03,311.34L1307.61,317.74L1319.01,322.46ZM1311.03,311.34L1300.78,304.49L1296.22,313.02L1307.61,317.74ZM1330.40,327.18L1319.01,322.46L1317.61,327.09L1329.70,329.49ZM1319.01,322.46L1307.61,317.74L1305.51,324.68L1317.61,327.09ZM1284.82,308.30L1273.43,303.58L1269.22,317.46L1281.31,319.87ZM1262.03,298.86L1250.64,294.14L1245.02,312.65L1257.12,315.06ZM1329.70,329.49L1317.61,327.09L1317.13,331.90L1329.47,331.90ZM1317.61,327.09L1305.51,324.68L1304.80,331.90L1317.13,331.90ZM1269.22,317.46L1257.12,315.06L1255.46,331.90L1267.79,331.90ZM1257.12,315.06L1245.02,312.65L1243.13,331.90L1255.46,331.90ZM1230.79,331.90L1218.46,331.90L1220.83,355.96L1232.93,353.56ZM1257.12,348.74L1245.02,351.15L1250.64,369.66L1262.03,364.94ZM1232.93,353.56L1220.83,355.96L1227.85,379.10L1239.24,374.38ZM1331.54,338.75L1321.29,345.61L1324.36,349.34L1333.08,340.62ZM1280.75,392.95L1272.03,401.67L1286.98,413.94L1293.83,403.69ZM1263.31,410.39L1254.58,419.12L1273.27,434.46L1280.13,424.20ZM1245.86,427.84L1237.14,436.56L1259.57,454.97L1266.42,444.71ZM1300.68,393.43L1293.83,403.69L1308.76,411.67L1313.48,400.27ZM1286.98,413.94L1280.13,424.20L1299.32,434.46L1304.04,423.06ZM1313.48,400.27L1308.76,411.67L1324.96,416.58L1327.36,404.48ZM1304.04,423.06L1299.32,434.46L1320.14,440.77L1322.55,428.68ZM1299.32,434.46L1294.60,445.85L1317.74,452.87L1320.14,440.77ZM1324.96,416.58L1322.55,428.68L1341.80,430.57L1341.80,418.24ZM1344.21,344.00L1346.61,356.09L1351.24,354.69L1346.52,343.30ZM1351.43,380.29L1353.83,392.39L1365.40,388.88L1360.68,377.48ZM1353.83,392.39L1356.24,404.48L1370.12,400.27L1365.40,388.88ZM1356.24,404.48L1358.64,416.58L1374.84,411.67L1370.12,400.27ZM1360.68,377.48L1365.40,388.88L1376.06,383.18L1369.21,372.92ZM1370.12,400.27L1374.84,411.67L1389.77,403.69L1382.92,393.43ZM1374.84,411.67L1379.56,423.06L1396.62,413.94L1389.77,403.69ZM1379.56,423.06L1384.28,434.46L1403.47,424.20L1396.62,413.94ZM1384.28,434.46L1389.00,445.85L1410.33,434.46L1403.47,424.20ZM1369.21,372.92L1376.06,383.18L1385.41,375.51L1376.69,366.79ZM1396.62,413.94L1403.47,424.20L1420.29,410.39L1411.57,401.67ZM1367.96,358.06L1376.69,366.79L1382.82,359.31L1372.57,352.46ZM1362.31,345.61L1372.57,352.46L1375.99,346.06L1364.59,341.34ZM1382.82,359.31L1393.08,366.16L1398.78,355.50L1387.38,350.78ZM1434.10,393.57L1444.36,400.43L1455.75,379.10L1444.36,374.38ZM1444.36,400.43L1454.61,407.28L1467.15,383.82L1455.75,379.10ZM1353.20,336.62L1364.59,341.34L1365.99,336.71L1353.90,334.31ZM1467.15,383.82L1478.54,388.54L1486.97,360.78L1474.87,358.37ZM1478.54,388.54L1489.94,393.26L1499.06,363.18L1486.97,360.78ZM1414.38,346.34L1426.48,348.74L1428.14,331.90L1415.81,331.90ZM1438.58,351.15L1450.67,353.56L1452.81,331.90L1440.47,331.90ZM1486.97,360.78L1499.06,363.18L1502.14,331.90L1489.81,331.90Z"/>
<path fill="#dbccba" d="M1353.90,329.49L1365.99,327.09L1364.59,322.46L1353.20,327.18ZM1414.38,317.46L1426.48,315.06L1421.57,298.86L1410.17,303.58ZM1426.48,315.06L1438.58,312.65L1432.96,294.14L1421.57,298.86ZM1353.20,327.18L1364.59,322.46L1362.31,318.19L1352.06,325.05ZM1364.59,322.46L1375.99,317.74L1372.57,311.34L1362.31,318.19ZM1375.99,317.74L1387.38,313.02L1382.82,304.49L1372.57,311.34ZM1359.24,314.46L1367.96,305.74L1362.36,301.13L1355.51,311.39ZM1367.96,305.74L1376.69,297.01L1369.21,290.88L1362.36,301.13ZM1437.74,235.96L1446.46,227.24L1424.03,208.83L1417.18,219.09ZM1355.51,311.39L1362.36,301.13L1355.96,297.71L1351.24,309.11ZM1362.36,301.13L1369.21,290.88L1360.68,286.32L1355.96,297.71ZM1376.06,280.62L1382.92,270.37L1370.12,263.53L1365.40,274.92ZM1396.62,249.86L1403.47,239.60L1384.28,229.34L1379.56,240.74ZM1351.24,309.11L1355.96,297.71L1349.02,295.61L1346.61,307.71ZM1332.36,309.11L1327.64,297.71L1321.24,301.13L1328.09,311.39ZM1327.64,297.71L1322.92,286.32L1314.39,290.88L1321.24,301.13ZM1328.09,311.39L1321.24,301.13L1315.64,305.74L1324.36,314.46ZM1281.31,319.87L1269.22,317.46L1267.79,331.90L1280.13,331.90ZM1329.47,331.90L1317.13,331.90L1317.61,336.71L1329.70,334.31ZM1329.70,334.31L1317.61,336.71L1319.01,341.34L1330.40,336.62ZM1290.52,366.16L1280.27,373.02L1289.47,384.23L1298.19,375.51ZM1289.47,384.23L1280.75,392.95L1293.83,403.69L1300.68,393.43ZM1334.95,342.16L1328.09,352.41L1332.36,354.69L1337.08,343.30ZM1314.39,372.92L1307.54,383.18L1318.20,388.88L1322.92,377.48ZM1307.54,383.18L1300.68,393.43L1313.48,400.27L1318.20,388.88ZM1318.20,388.88L1313.48,400.27L1327.36,404.48L1329.77,392.39ZM1334.58,368.19L1332.17,380.29L1341.80,381.24L1341.80,368.90ZM1332.17,380.29L1329.77,392.39L1341.80,393.57L1341.80,381.24ZM1341.80,356.57L1341.80,368.90L1349.02,368.19L1346.61,356.09ZM1346.61,356.09L1349.02,368.19L1355.96,366.09L1351.24,354.69ZM1349.02,368.19L1351.43,380.29L1360.68,377.48L1355.96,366.09ZM1426.48,348.74L1438.58,351.15L1440.47,331.90L1428.14,331.90Z"/>
<path fill="#8ca87d" d="M1365.99,327.09L1378.09,324.68L1375.99,317.74L1364.59,322.46ZM1402.85,270.85L1411.57,262.13L1396.62,249.86L1389.77,260.11ZM1324.36,349.34L1315.64,358.06L1321.24,362.67L1328.09,352.41Z"/>
<path fill="#abb185" d="M1390.19,322.27L1402.29,319.87L1398.78,308.30L1387.38,313.02ZM1421.57,298.86L1432.96,294.14L1423.84,277.08L1413.59,283.93ZM1432.96,294.14L1444.36,289.42L1434.10,270.23L1423.84,277.08Z"/>
<path fill="#81a57a" d="M1402.29,319.87L1414.38,317.46L1410.17,303.58L1398.78,308.30ZM1317.13,331.90L1304.80,331.90L1305.51,339.12L1317.61,336.71Z"/>
<path fill="#e0d5cc" d="M1450.67,310.24L1462.77,307.84L1455.75,284.70L1444.36,289.42ZM1296.22,313.02L1284.82,308.30L1281.31,319.87L1293.41,322.27ZM1293.41,322.27L1281.31,319.87L1280.13,331.90L1292.46,331.90Z"/>
<path fill="#b4b488" d="M1387.38,313.02L1398.78,308.30L1393.08,297.64L1382.82,304.49ZM1394.13,279.57L1402.85,270.85L1389.77,260.11L1382.92,270.37ZM1281.31,343.93L1269.22,346.34L1273.43,360.22L1284.82,355.50ZM1341.80,368.90L1341.80,381.24L1351.43,380.29L1349.02,368.19Z"/>
<path fill="#bab58a" d="M1398.78,308.30L1410.17,303.58L1403.33,290.78L1393.08,297.64Z"/>
<path fill="#378d72" d="M1410.17,303.58L1421.57,298.86L1413.59,283.93L1403.33,290.78Z"/>
<path fill="#e5dedb" d="M1444.36,289.42L1455.75,284.70L1444.36,263.37L1434.10,270.23ZM1348.65,321.64L1355.51,311.39L1351.24,309.11L1346.52,320.50ZM1344.21,319.80L1346.61,307.71L1341.80,307.23L1341.80,319.57ZM1341.80,294.90L1341.80,282.56L1332.17,283.51L1334.58,295.61ZM1330.40,336.62L1319.01,341.34L1321.29,345.61L1331.54,338.75ZM1362.36,362.67L1369.21,372.92L1376.69,366.79L1367.96,358.06ZM1378.09,339.12L1390.19,341.53L1391.14,331.90L1378.80,331.90ZM1390.19,341.53L1402.29,343.93L1403.47,331.90L1391.14,331.90Z"/>
<path fill="#dfd3c8" d="M1489.94,270.54L1501.33,265.82L1485.38,235.96L1475.12,242.82ZM1512.73,261.10L1524.13,256.38L1505.89,222.26L1495.63,229.11ZM1455.18,218.52L1463.90,209.80L1437.74,188.32L1430.88,198.58ZM1424.03,208.83L1430.88,198.58L1403.16,183.76L1398.44,195.16ZM1341.80,282.56L1341.80,270.23L1329.77,271.41L1332.17,283.51ZM1245.02,351.15L1232.93,353.56L1239.24,374.38L1250.64,369.66ZM1259.76,386.72L1249.50,393.57L1263.31,410.39L1272.03,401.67ZM1293.83,403.69L1286.98,413.94L1304.04,423.06L1308.76,411.67ZM1280.13,424.20L1273.27,434.46L1294.60,445.85L1299.32,434.46ZM1337.08,343.30L1332.36,354.69L1336.99,356.09L1339.39,344.00ZM1308.76,411.67L1304.04,423.06L1322.55,428.68L1324.96,416.58ZM1322.55,428.68L1320.14,440.77L1341.80,442.91L1341.80,430.57ZM1341.80,344.23L1341.80,356.57L1346.61,356.09L1344.21,344.00ZM1346.52,343.30L1351.24,354.69L1355.51,352.41L1348.65,342.16ZM1352.06,338.75L1362.31,345.61L1364.59,341.34L1353.20,336.62ZM1372.57,352.46L1382.82,359.31L1387.38,350.78L1375.99,346.06ZM1413.59,379.87L1423.84,386.72L1432.96,369.66L1421.57,364.94ZM1387.38,350.78L1398.78,355.50L1402.29,343.93L1390.19,341.53ZM1421.57,364.94L1432.96,369.66L1438.58,351.15L1426.48,348.74Z"/>
<path fill="#449273" d="M1362.31,318.19L1372.57,311.34L1367.96,305.74L1359.24,314.46ZM1305.51,339.12L1293.41,341.53L1296.22,350.78L1307.61,346.06Z"/>
<path fill="#e2d9d1" d="M1382.82,304.49L1393.08,297.64L1385.41,288.29L1376.69,297.01ZM1379.56,240.74L1384.28,229.34L1363.46,223.03L1361.05,235.12ZM1339.39,319.80L1336.99,307.71L1332.36,309.11L1337.08,320.50ZM1333.08,323.18L1324.36,314.46L1321.29,318.19L1331.54,325.05ZM1304.80,331.90L1292.46,331.90L1293.41,341.53L1305.51,339.12ZM1273.43,360.22L1262.03,364.94L1270.01,379.87L1280.27,373.02ZM1262.03,364.94L1250.64,369.66L1259.76,386.72L1270.01,379.87ZM1339.39,344.00L1336.99,356.09L1341.80,356.57L1341.80,344.23ZM1341.80,381.24L1341.80,393.57L1353.83,392.39L1351.43,380.29ZM1355.51,352.41L1362.36,362.67L1367.96,358.06L1359.24,349.34ZM1359.24,349.34L1367.96,358.06L1372.57,352.46L1362.31,345.61ZM1365.99,336.71L1378.09,339.12L1378.80,331.90L1366.47,331.90Z"/>
<path fill="#b0b387" d="M1393.08,297.64L1403.33,290.78L1394.13,279.57L1385.41,288.29Z"/>
<path fill="#569874" d="M1403.33,290.78L1413.59,283.93L1402.85,270.85L1394.13,279.57Z"/>
<path fill="#10616c" d="M1413.59,283.93L1423.84,277.08L1411.57,262.13L1402.85,270.85Z"/>
<path fill="#98ac80" d="M1423.84,277.08L1434.10,270.23L1420.29,253.41L1411.57,262.13ZM1389.77,260.11L1396.62,249.86L1379.56,240.74L1374.84,252.13ZM1370.12,263.53L1374.84,252.13L1358.64,247.22L1356.24,259.32Z"/>
<path fill="#056c6f" d="M1434.10,270.23L1444.36,263.37L1429.02,244.68L1420.29,253.41Z"/>
<path fill="#beb68c" d="M1444.36,263.37L1454.61,256.52L1437.74,235.96L1429.02,244.68ZM1454.61,256.52L1464.87,249.67L1446.46,227.24L1437.74,235.96ZM1374.84,252.13L1379.56,240.74L1361.05,235.12L1358.64,247.22ZM1341.80,307.23L1341.80,294.90L1334.58,295.61L1336.99,307.71ZM1319.01,341.34L1307.61,346.06L1311.03,352.46L1321.29,345.61ZM1270.01,379.87L1259.76,386.72L1272.03,401.67L1280.75,392.95ZM1333.08,340.62L1324.36,349.34L1328.09,352.41L1334.95,342.16ZM1315.64,358.06L1306.91,366.79L1314.39,372.92L1321.24,362.67ZM1306.91,366.79L1298.19,375.51L1307.54,383.18L1314.39,372.92ZM1321.24,362.67L1314.39,372.92L1322.92,377.48L1327.64,366.09ZM1329.77,392.39L1327.36,404.48L1341.80,405.91L1341.80,393.57ZM1348.65,342.16L1355.51,352.41L1359.24,349.34L1350.52,340.62Z"/>
<path fill="#d9c8b2" d="M1376.69,297.01L1385.41,288.29L1376.06,280.62L1369.21,290.88Z"/>
<path fill="#5e9a74" d="M1411.57,262.13L1420.29,253.41L1403.47,239.60L1396.62,249.86Z"/>
<path fill="#75a177" d="M1382.92,270.37L1389.77,260.11L1374.84,252.13L1370.12,263.53Z"/>
<path fill="#d5c1a4" d="M1403.47,239.60L1410.33,229.34L1389.00,217.95L1384.28,229.34Z"/>
<path fill="#c1b78e" d="M1267.79,331.90L1255.46,331.90L1257.12,348.74L1269.22,346.34Z"/>
<path fill="#d7c5ac" d="M1243.13,331.90L1230.79,331.90L1232.93,353.56L1245.02,351.15ZM1269.22,346.34L1257.12,348.74L1262.03,364.94L1273.43,360.22ZM1327.64,366.09L1322.92,377.48L1332.17,380.29L1334.58,368.19ZM1382.92,393.43L1389.77,403.69L1402.85,392.95L1394.13,384.23ZM1350.52,340.62L1359.24,349.34L1362.31,345.61L1352.06,338.75Z"/>
<path fill="#b8b58a" d="M1307.61,346.06L1296.22,350.78L1300.78,359.31L1311.03,352.46Z"/>
<path fill="#cdbb97" d="M1321.29,345.61L1311.03,352.46L1315.64,358.06L1324.36,349.34ZM1365.40,388.88L1370.12,400.27L1382.92,393.43L1376.06,383.18Z"/>
<path fill="#ddd0c2" d="M1280.27,373.02L1270.01,379.87L1280.75,392.95L1289.47,384.23ZM1341.80,405.91L1341.80,418.24L1358.64,416.58L1356.24,404.48ZM1341.80,418.24L1341.80,430.57L1361.05,428.68L1358.64,416.58Z"/>
<path fill="#eae7e8" d="M1394.13,384.23L1402.85,392.95L1413.59,379.87L1403.33,373.02ZM1403.33,373.02L1413.59,379.87L1421.57,364.94L1410.17,360.22ZM1410.17,360.22L1421.57,364.94L1426.48,348.74L1414.38,346.34Z"/>
<path fill="#e6e1de" d="M1411.57,401.67L1420.29,410.39L1434.10,393.57L1423.84,386.72Z"/>
</g>
<g fill="none" stroke="#b0b0b0" stroke-width="1.2"><circle cx="1341.8" cy="331.9" r="39.32"/><circle cx="1341.8" cy="331.9" r="78.64"/><circle cx="1341.8" cy="331.9" r="117.96"/><circle cx="1341.8" cy="331.9" r="157.28"/><circle cx="1341.8" cy="331.9" r="196.60"/><line stroke-width="1.1" x1="1107.45" y1="332.5" x2="1576.15" y2="332.5"/><line stroke-width="1.1" x1="1342.5" y1="97.55" x2="1342.5" y2="566.25"/><line x1="1176.09" y1="497.61" x2="1507.51" y2="166.19"/><line x1="1507.51" y1="497.61" x2="1176.09" y2="166.19"/></g>
<circle cx="1341.8" cy="331.9" r="234.3" fill="none" stroke="#000" stroke-width="1.2"/>
<circle cx="1576.1" cy="331.9" r="1.1" fill="#000"/>
<g font-size="19.44" text-anchor="middle">
<text x="1341.8" y="84">N</text>
<text x="1341.8" y="591.6">S</text>
<text x="1596.8" y="337.8">E</text>
<text x="1088.3" y="337.8">W</text>
<text x="1393.3" y="313.1">0.2</text>
<text x="1429.7" y="298.0">0.4</text>
<text x="1466.0" y="283.0">0.6</text>
<text x="1502.3" y="267.9">0.8</text>
<text x="1538.6" y="252.9">1.0</text>
</g>
</g>
<rect x="406.6" y="605.6" width="799.4" height="29.7" fill="url(#cb)" stroke="#000" stroke-width="1.2"/>
<g stroke="#000" stroke-width="1.2">
<line x1="406.6" y1="635.3" x2="406.6" y2="656.8"/>
<line x1="497.4" y1="635.3" x2="497.4" y2="656.8"/>
<line x1="588.3" y1="635.3" x2="588.3" y2="656.8"/>
<line x1="679.1" y1="635.3" x2="679.1" y2="656.8"/>
<line x1="770.0" y1="635.3" x2="770.0" y2="656.8"/>
<line x1="860.8" y1="635.3" x2="860.8" y2="656.8"/>
<line x1="951.6" y1="635.3" x2="951.6" y2="656.8"/>
<line x1="1042.5" y1="635.3" x2="1042.5" y2="656.8"/>
<line x1="1133.3" y1="635.3" x2="1133.3" y2="656.8"/>
</g><g font-size="22.2" text-anchor="middle">
<text x="406.6" y="681">0.0</text>
<text x="497.4" y="681">2.5</text>
<text x="588.3" y="681">5.0</text>
<text x="679.1" y="681">7.5</text>
<text x="770.0" y="681">10.0</text>
<text x="860.8" y="681">12.5</text>
<text x="951.6" y="681">15.0</text>
<text x="1042.5" y="681">17.5</text>
<text x="1133.3" y="681">20.0</text>
<text x="805.5" y="708.5">Currents [m/s] at COI0513; number of occurrences</text>
</g>
</svg></body></html>
